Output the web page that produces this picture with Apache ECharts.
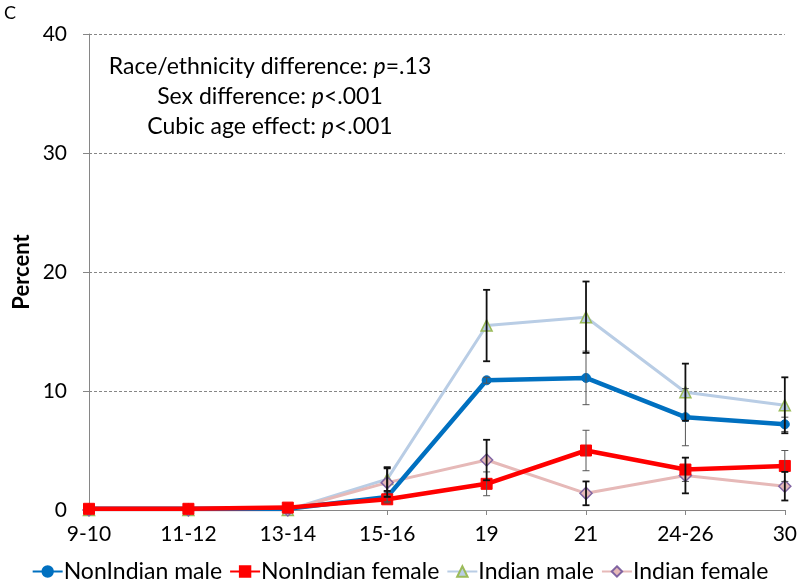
<!DOCTYPE html>
<html>
<head>
<meta charset="utf-8">
<script src="https://cdn.jsdelivr.net/npm/echarts@6/dist/echarts.min.js"></script>
<style>
html,body{margin:0;padding:0;background:#fff;}
#chart{width:800px;height:587px;}
</style>
</head>
<body>
<div id="chart"></div>
<script>
const categories = ['9-10','11-12','13-14','15-16','19','21','24-26','30'];
const yTicks = [0, 10, 20, 30, 40];
const nonIndianMale = [0.1, 0.1, 0.1, 1.1, 10.9, 11.1, 7.8, 7.2];
const nonIndianMaleErr = [0, 0, 0, 0.4, 0.25, 2.25, 2.4, 0.6];
const nonIndianFemale = [0.1, 0.1, 0.2, 0.9, 2.2, 5.0, 3.4, 3.7];
const nonIndianFemaleErr = [0, 0, 0, 0.3, 1.0, 1.7, 1.0, 1.3];
const indianMale = [0, 0, 0, 2.6, 15.5, 16.2, 9.9, 8.8];
const indianMaleErr = [0, 0, 0, 1.0, 3.0, 3.0, 2.4, 2.35];
const indianFemale = [0, 0, 0, 2.3, 4.2, 1.4, 2.9, 2.0];
const indianFemaleErr = [0, 0, 0, 1.2, 1.7, 1.0, 1.5, 1.2];

const FONT = 'Lato';

function errData(vals, errs) {
  return vals.map((v, i) => [i, v - errs[i], v + errs[i]]).filter((d, i) => errs[i] > 0);
}
function errSeries(vals, errs, color, width, z) {
  return {
    type: 'custom',
    z: z,
    silent: true,
    renderItem: function (params, api) {
      const x = api.value(0);
      const lo = api.coord([x, api.value(1)]);
      const hi = api.coord([x, api.value(2)]);
      const w = 3.5;
      const style = { stroke: color, lineWidth: width };
      return {
        type: 'group',
        children: [
          { type: 'line', shape: { x1: lo[0], y1: lo[1], x2: hi[0], y2: hi[1] }, style: style },
          { type: 'line', shape: { x1: lo[0] - w, y1: lo[1], x2: lo[0] + w, y2: lo[1] }, style: style },
          { type: 'line', shape: { x1: hi[0] - w, y1: hi[1], x2: hi[0] + w, y2: hi[1] }, style: style }
        ]
      };
    },
    encode: { x: 0, y: [1, 2] },
    data: errData(vals, errs)
  };
}

const rich = {
  n: { fontSize: 23, fontFamily: FONT, fill: '#000' },
  i: { fontSize: 23, fontFamily: FONT, fontStyle: 'italic', fill: '#000' }
};

const chart = echarts.init(document.getElementById('chart'), null, { renderer: 'canvas' });
chart.setOption({
  animation: false,
  backgroundColor: '#ffffff',
  textStyle: { fontFamily: FONT },
  grid: { left: 89, right: 11, top: 34, bottom: 77, containLabel: false },
  xAxis: {
    type: 'category',
    data: categories,
    boundaryGap: false,
    axisLine: { lineStyle: { color: '#868686', width: 1 } },
    axisTick: { show: true, alignWithLabel: true, length: 5, lineStyle: { color: '#868686' } },
    axisLabel: { color: '#000', fontSize: 21, fontFamily: FONT, margin: 14 },
    splitLine: { show: false }
  },
  yAxis: {
    type: 'value',
    min: yTicks[0],
    max: yTicks[yTicks.length - 1],
    interval: 10,
    axisLine: { show: true, lineStyle: { color: '#868686', width: 1 } },
    axisTick: { show: true, length: 6, inside: false, lineStyle: { color: '#868686' } },
    axisLabel: { color: '#000', fontSize: 21, fontFamily: FONT, margin: 22 },
    splitLine: { show: true, lineStyle: { color: '#868686', type: [3, 2], width: 1 } }
  },
  legend: {
    bottom: -1,
    left: 'center',
    itemGap: 7,
    itemWidth: 30,
    itemHeight: 13,
    textStyle: { color: '#000', fontSize: 23, fontFamily: FONT, padding: [0, 0, 0, -4] },
    data: ['NonIndian male', 'NonIndian female', 'Indian male', 'Indian female']
  },
  graphic: [
    { type: 'text', left: 4, top: 4, style: { text: 'C', fontSize: 18, fontFamily: FONT, fill: '#000' } },
    { type: 'text', x: 22, y: 272, rotation: Math.PI / 2,
      style: { text: 'Percent', fontSize: 22, fontWeight: 'bold', fontFamily: FONT, fill: '#000', align: 'center', verticalAlign: 'middle' } },
    { type: 'text', x: 270, y: 67,
      style: { text: '{n|Race/ethnicity difference: }{i|p}{n|=.13}', align: 'center', verticalAlign: 'middle', rich: rich } },
    { type: 'text', x: 270, y: 97,
      style: { text: '{n|Sex difference: }{i|p}{n|<.001}', align: 'center', verticalAlign: 'middle', rich: rich } },
    { type: 'text', x: 270, y: 127,
      style: { text: '{n|Cubic age effect: }{i|p}{n|<.001}', align: 'center', verticalAlign: 'middle', rich: rich } }
  ],
  series: [
    {
      name: 'Indian male', type: 'line', data: indianMale, z: 2,
      symbol: 'triangle', symbolSize: 11, showSymbol: true,
      lineStyle: { color: '#B9CDE5', width: 3 },
      itemStyle: { color: '#B9CDE5', borderColor: '#9BBB59', borderWidth: 1.5 }
    },
    {
      name: 'Indian female', type: 'line', data: indianFemale, z: 3,
      symbol: 'diamond', symbolSize: 12, showSymbol: true,
      lineStyle: { color: '#E6B9B8', width: 3 },
      itemStyle: { color: '#E6B9B8', borderColor: '#8064A2', borderWidth: 1.5 }
    },
    {
      name: 'NonIndian male', type: 'line', data: nonIndianMale, z: 4,
      symbol: 'circle', symbolSize: 9, showSymbol: true,
      lineStyle: { color: '#0070C0', width: 4.5 },
      itemStyle: { color: '#0070C0', borderColor: '#0070C0', borderWidth: 1 }
    },
    {
      name: 'NonIndian female', type: 'line', data: nonIndianFemale, z: 5,
      symbol: 'rect', symbolSize: 11, showSymbol: true,
      lineStyle: { color: '#FF0000', width: 4.5 },
      itemStyle: { color: '#FF0000', borderColor: '#FF0000', borderWidth: 1 }
    },
    errSeries(nonIndianMale, nonIndianMaleErr, '#555555', 1, 6),
    errSeries(nonIndianFemale, nonIndianFemaleErr, '#555555', 1, 6),
    errSeries(indianMale, indianMaleErr, '#111111', 1.8, 7),
    errSeries(indianFemale, indianFemaleErr, '#111111', 1.8, 7)
  ]
});
</script>
</body>
</html>
